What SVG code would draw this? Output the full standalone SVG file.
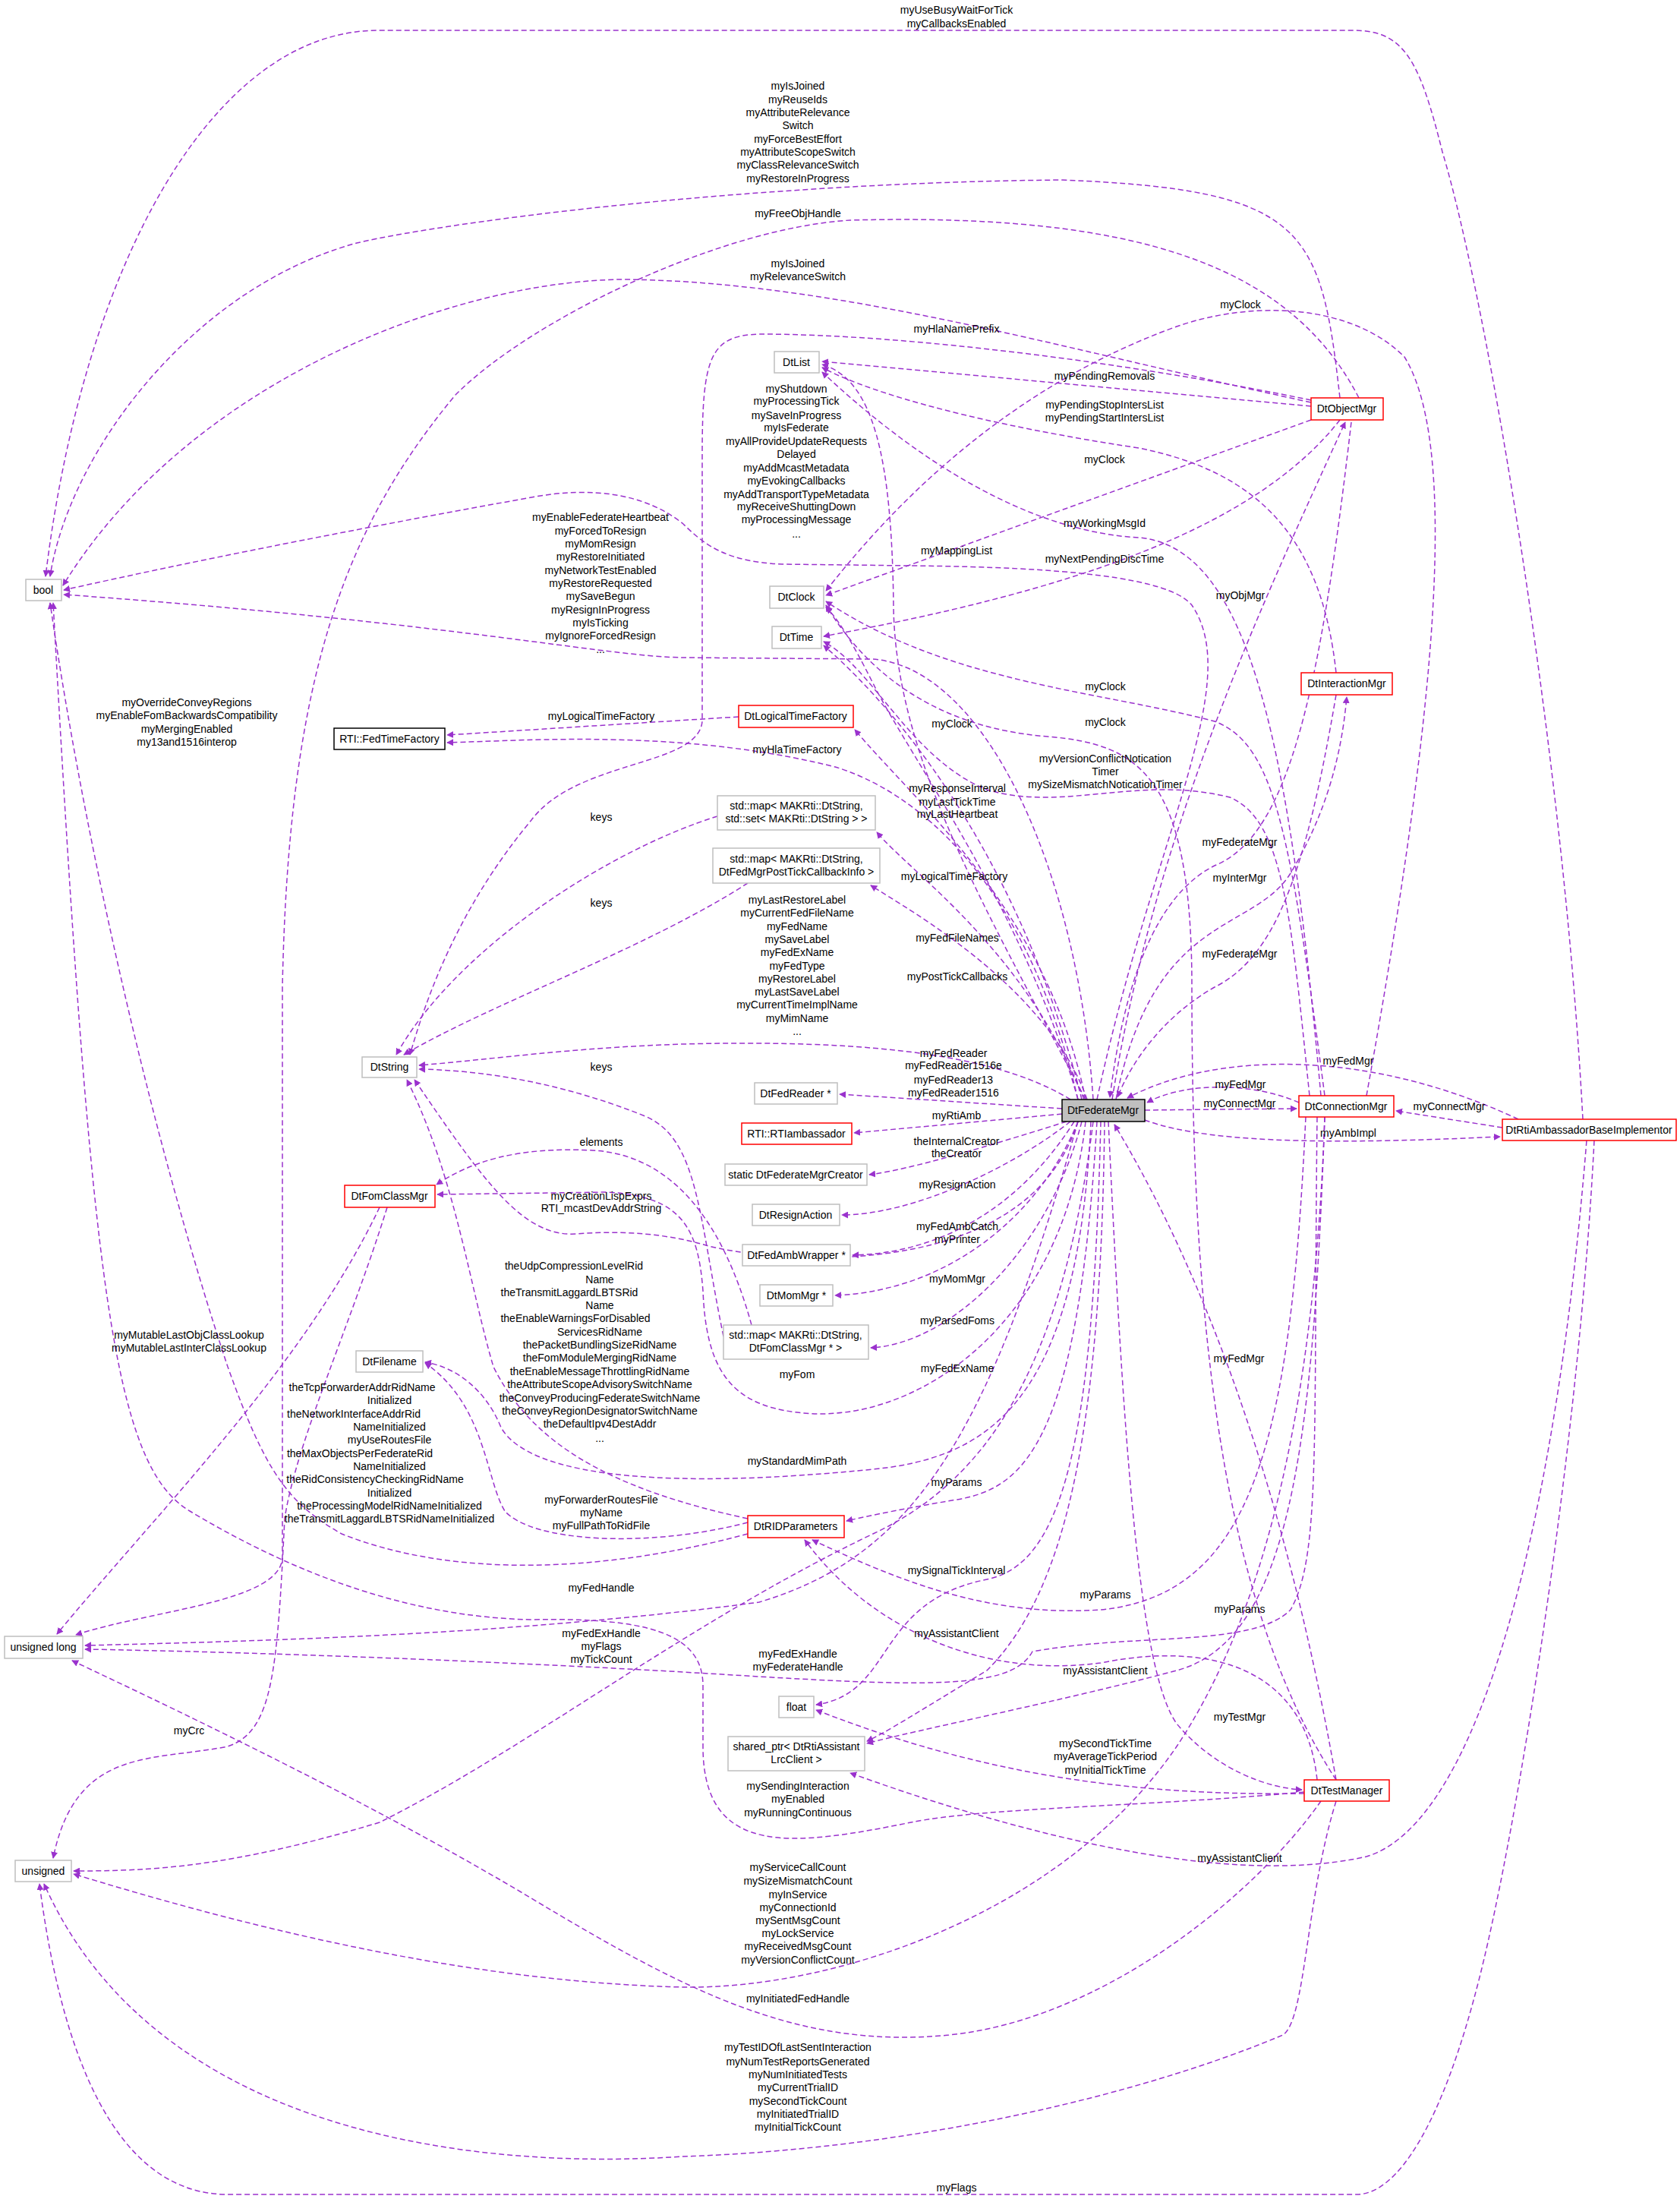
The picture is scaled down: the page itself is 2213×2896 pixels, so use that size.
<svg xmlns="http://www.w3.org/2000/svg" width="2213" height="2896" viewBox="0 0 2213 2896">
<style>
.e{fill:none;stroke:#9a32cd;stroke-width:1.5;stroke-dasharray:7,4;marker-end:url(#ah)}
text{font-family:"Liberation Sans",Arial,sans-serif;font-size:14px;fill:#000;text-anchor:middle}
.g{fill:#fff;stroke:#bfbfbf;stroke-width:1.5}
.r{fill:#fff;stroke:#ff0000;stroke-width:1.5}
.k{fill:#fff;stroke:#000;stroke-width:1.5}
.m{fill:#bfbfbf;stroke:#000;stroke-width:1.5}
</style>
<defs>
<marker id="ah" viewBox="0 0 10 10" refX="9" refY="5" markerWidth="9" markerHeight="9" markerUnits="userSpaceOnUse" orient="auto"><path d="M0,0 L10,5 L0,10 z" fill="#9a32cd"/></marker>
</defs>
<rect width="2213" height="2896" fill="#fff"/>
<g id="edges">
<path class="e" d="M2085,1474 C2060,1000 1960,400 1900,200 C1870,80 1850,40 1783,40 L498,40 C280,40 110,350 60,759"/>
<path class="e" d="M1765,524 C1740,300 1720,250 1400,237 C1000,240 600,290 470,320 C250,380 90,600 66,759"/>
<path class="e" d="M1727,530 C1400,460 1100,370 820,368 C600,370 250,500 83,771"/>
<path class="e" d="M1440,1448 C1420,1150 1300,880 1150,868 L900,866 C800,865 600,820 84,783"/>
<path class="e" d="M1445,1448 C1520,1100 1640,900 1570,797 C1540,760 1400,747 1200,745 L1030,743 C960,740 930,720 900,690 C850,650 780,640 700,655 C450,700 250,740 84,777"/>
<path class="e" d="M1727,527 C1500,480 1200,440 1000,440 C935,442 925,470 925,600 L925,950 C920,1010 760,1000 700,1080 C600,1200 560,1320 540,1389"/>
<path class="e" d="M1727,535 L1083,476"/>
<path class="e" d="M1760,886 C1740,700 1650,620 1500,590 C1300,560 1150,520 1083,484"/>
<path class="e" d="M1800,1443 C1880,1000 1930,600 1850,470 C1780,400 1650,395 1550,430 C1300,520 1150,700 1088,778"/>
<path class="e" d="M1727,553 L1088,784"/>
<path class="e" d="M1740,1443 C1700,1000 1650,720 1500,708 C1350,700 1200,600 1083,490"/>
<path class="e" d="M1430,1448 C1300,1200 1180,1000 1177,800 C1175,600 1150,500 1083,480"/>
<path class="e" d="M1765,553 C1650,700 1400,780 1085,838"/>
<path class="e" d="M1465,1448 C1520,1100 1660,800 1772,556"/>
<path class="e" d="M1745,1443 C1700,1100 1680,980 1600,950 C1450,910 1250,900 1088,792"/>
<path class="e" d="M1760,2344 C1600,2100 1570,1700 1570,1300 C1570,1020 1500,980 1380,970 C1250,960 1150,900 1088,797"/>
<path class="e" d="M1420,1448 C1350,1200 1200,1000 1150,900 C1120,840 1100,810 1088,800"/>
<path class="e" d="M1725,1443 C1700,1200 1690,1080 1620,1050 C1500,1020 1400,1070 1300,1040 C1200,1000 1150,880 1085,845"/>
<path class="e" d="M1425,1448 C1350,1150 1200,950 1085,850"/>
<path class="e" d="M1780,556 C1740,900 1700,1100 1600,1140 C1520,1180 1480,1300 1462,1445"/>
<path class="e" d="M1470,1448 C1520,1200 1650,1230 1700,1150 C1760,1050 1770,960 1774,918"/>
<path class="e" d="M1760,915 C1720,1150 1680,1260 1600,1300 C1530,1340 1490,1400 1472,1445"/>
<path class="e" d="M1711,1452 C1650,1425 1560,1425 1511,1452"/>
<path class="e" d="M2000,1474 C1800,1380 1600,1385 1485,1446"/>
<path class="e" d="M1508,1462 L1708,1460"/>
<path class="e" d="M1979,1485 L1839,1463"/>
<path class="e" d="M1508,1475 C1600,1510 1800,1505 1976,1497"/>
<path class="e" d="M1430,1448 C1380,1200 1200,1050 1126,961"/>
<path class="e" d="M973,944 L589,968"/>
<path class="e" d="M1420,1448 C1350,1150 1200,1040 1100,1010 C900,960 700,975 589,978"/>
<path class="e" d="M1428,1448 C1350,1250 1200,1150 1155,1096"/>
<path class="e" d="M1432,1448 C1380,1300 1200,1200 1147,1166"/>
<path class="e" d="M945,1075 C800,1120 600,1250 522,1389"/>
<path class="e" d="M985,1163 C850,1250 650,1320 532,1389"/>
<path class="e" d="M1410,1448 C1300,1380 1100,1370 900,1375 C750,1380 650,1395 552,1403"/>
<path class="e" d="M953,1760 C920,1600 920,1500 850,1470 C750,1430 650,1410 552,1408"/>
<path class="e" d="M990,1745 C950,1600 880,1520 780,1515 C680,1510 620,1530 575,1560"/>
<path class="e" d="M1430,1477 C1400,1750 1200,1880 1050,1860 C960,1850 930,1800 926,1700 C920,1620 900,1575 800,1570 L576,1573"/>
<path class="e" d="M1420,1477 C1350,1700 1000,1660 930,1640 C880,1625 820,1620 760,1625 C690,1630 640,1560 546,1422"/>
<path class="e" d="M985,2000 C800,1960 700,1900 650,1800 C620,1700 600,1550 536,1422"/>
<path class="e" d="M985,2005 C850,2040 700,2030 665,1990 C640,1950 640,1850 560,1795"/>
<path class="e" d="M985,2020 C800,2070 600,2080 450,2020 C380,1980 350,1940 300,1800 C200,1500 110,1100 66,794"/>
<path class="e" d="M1437,1477 C1420,1850 1300,1920 1150,1935 C900,1960 700,1950 660,1880 C640,1830 600,1800 560,1794"/>
<path class="e" d="M1445,1477 C1420,1900 1350,1960 1260,1975 C1200,1985 1150,1995 1115,2003"/>
<path class="e" d="M1720,1471 C1700,1900 1650,2100 1450,2120 C1300,2130 1180,2080 1070,2028"/>
<path class="e" d="M1735,2344 C1720,2200 1600,2160 1450,2190 C1300,2210 1150,2150 1060,2028"/>
<path class="e" d="M1450,1477 C1440,1900 1400,2060 1300,2080 C1150,2110 1180,2230 1075,2245"/>
<path class="e" d="M1718,2362 C1500,2365 1300,2340 1075,2252"/>
<path class="e" d="M1455,1477 C1450,1900 1400,2100 1300,2200 C1200,2260 1170,2280 1142,2293"/>
<path class="e" d="M1745,1471 C1730,1900 1700,2160 1550,2200 C1400,2240 1200,2280 1142,2296"/>
<path class="e" d="M2090,1502 C2050,2000 1950,2400 1800,2445 C1600,2490 1300,2400 1120,2335"/>
<path class="e" d="M1440,1477 C1400,1800 1300,1950 1150,2020 C900,2140 700,2300 500,2400 C300,2460 200,2464 97,2464"/>
<path class="e" d="M1420,1477 C1300,1900 1200,2050 1000,2110 C700,2150 400,2160 112,2167"/>
<path class="e" d="M1735,1471 C1730,1900 1740,2050 1700,2120 C1650,2170 1500,2150 1360,2175 C1330,2230 1200,2220 900,2202 C600,2185 300,2175 112,2172"/>
<path class="e" d="M1718,2360 C1500,2380 1300,2380 1200,2400 C1050,2430 926,2450 926,2300 L926,2220 C926,2150 850,2130 700,2133 C550,2130 400,2080 250,1990 C150,1930 120,1700 70,794"/>
<path class="e" d="M1740,2372 C1650,2500 1450,2660 1250,2680 C1050,2700 900,2620 700,2500 C500,2380 250,2260 95,2187"/>
<path class="e" d="M500,1590 C400,1800 200,2000 75,2152"/>
<path class="e" d="M510,1590 C460,1750 390,1900 375,2000 C365,2200 360,2280 300,2300 C200,2320 100,2300 70,2447"/>
<path class="e" d="M1790,524 C1700,350 1500,280 1120,290 C950,300 700,420 600,520 C450,700 380,900 372,1300 L372,2050 C372,2110 200,2120 100,2153"/>
<path class="e" d="M1745,1471 C1730,1900 1650,2150 1550,2300 C1400,2520 1100,2620 900,2617 C600,2610 300,2530 97,2468"/>
<path class="e" d="M1760,2372 C1720,2500 1720,2660 1690,2680 C1500,2760 1200,2830 900,2840 C600,2860 200,2800 58,2481"/>
<path class="e" d="M2100,1502 C2080,1900 2000,2400 1950,2600 C1900,2800 1840,2890 1787,2890 L300,2890 C150,2890 80,2700 52,2481"/>
<path class="e" d="M1760,2344 C1700,2000 1600,1700 1468,1481"/>
<path class="e" d="M1460,1477 C1480,1900 1500,2200 1550,2270 C1600,2330 1670,2355 1715,2357"/>
<path class="e" d="M1399,1460 L1106,1441"/>
<path class="e" d="M1399,1467 L1125,1492"/>
<path class="e" d="M1405,1477 C1300,1510 1200,1540 1145,1547"/>
<path class="e" d="M1410,1477 C1330,1540 1200,1600 1109,1600"/>
<path class="e" d="M1415,1477 C1350,1580 1250,1650 1123,1653"/>
<path class="e" d="M1420,1477 C1370,1600 1250,1700 1100,1706"/>
<path class="e" d="M1425,1477 C1380,1650 1250,1770 1147,1775"/>
<g>
<text x="1260" y="18">myUseBusyWaitForTick</text><text x="1260" y="36">myCallbacksEnabled</text>
<text x="1051" y="118">myIsJoined</text><text x="1051" y="136">myReuseIds</text><text x="1051" y="153">myAttributeRelevance</text><text x="1051" y="170">Switch</text><text x="1051" y="188">myForceBestEffort</text><text x="1051" y="205">myAttributeScopeSwitch</text><text x="1051" y="222">myClassRelevanceSwitch</text><text x="1051" y="240">myRestoreInProgress</text>
<text x="1051" y="286">myFreeObjHandle</text>
<text x="1051" y="352">myIsJoined</text><text x="1051" y="369">myRelevanceSwitch</text>
<text x="1634" y="406">myClock</text>
<text x="1260" y="438">myHlaNamePrefix</text>
<text x="1455" y="500">myPendingRemovals</text>
<text x="1455" y="538">myPendingStopIntersList</text><text x="1455" y="555">myPendingStartIntersList</text>
<text x="1049" y="517">myShutdown</text><text x="1049" y="533">myProcessingTick</text><text x="1049" y="552">mySaveInProgress</text><text x="1049" y="568">myIsFederate</text><text x="1049" y="586">myAllProvideUpdateRequests</text><text x="1049" y="603">Delayed</text><text x="1049" y="621">myAddMcastMetadata</text><text x="1049" y="638">myEvokingCallbacks</text><text x="1049" y="656">myAddTransportTypeMetadata</text><text x="1049" y="672">myReceiveShuttingDown</text><text x="1049" y="689">myProcessingMessage</text><text x="1049" y="708">...</text>
<text x="1455" y="610">myClock</text>
<text x="1455" y="694">myWorkingMsgId</text>
<text x="1260" y="730">myMappingList</text>
<text x="1455" y="741">myNextPendingDiscTime</text>
<text x="1634" y="789">myObjMgr</text>
<text x="791" y="686">myEnableFederateHeartbeat</text><text x="791" y="704">myForcedToResign</text><text x="791" y="721">myMomResign</text><text x="791" y="738">myRestoreInitiated</text><text x="791" y="756">myNetworkTestEnabled</text><text x="791" y="773">myRestoreRequested</text><text x="791" y="790">mySaveBegun</text><text x="791" y="808">myResignInProgress</text><text x="791" y="825">myIsTicking</text><text x="791" y="842">myIgnoreForcedResign</text><text x="791" y="860">...</text>
<text x="1456" y="909">myClock</text><text x="1456" y="956">myClock</text><text x="1254" y="958">myClock</text>
<text x="246" y="930">myOverrideConveyRegions</text><text x="246" y="947">myEnableFomBackwardsCompatibility</text><text x="246" y="965">myMergingEnabled</text><text x="246" y="982">my13and1516interop</text>
<text x="792" y="948">myLogicalTimeFactory</text>
<text x="1050" y="992">myHlaTimeFactory</text>
<text x="1456" y="1004">myVersionConflictNotication</text><text x="1456" y="1021">Timer</text><text x="1456" y="1038">mySizeMismatchNoticationTimer</text>
<text x="1261" y="1043">myResponseInterval</text><text x="1261" y="1061">myLastTickTime</text><text x="1261" y="1077">myLastHeartbeat</text>
<text x="792" y="1081">keys</text>
<text x="1633" y="1114">myFederateMgr</text>
<text x="1257" y="1159">myLogicalTimeFactory</text>
<text x="1633" y="1161">myInterMgr</text>
<text x="792" y="1194">keys</text>
<text x="1050" y="1190">myLastRestoreLabel</text><text x="1050" y="1207">myCurrentFedFileName</text><text x="1050" y="1225">myFedName</text><text x="1050" y="1242">mySaveLabel</text><text x="1050" y="1259">myFedExName</text><text x="1050" y="1277">myFedType</text><text x="1050" y="1294">myRestoreLabel</text><text x="1050" y="1311">myLastSaveLabel</text><text x="1050" y="1328">myCurrentTimeImplName</text><text x="1050" y="1346">myMimName</text><text x="1050" y="1363">...</text>
<text x="1261" y="1240">myFedFileNames</text>
<text x="1633" y="1261">myFederateMgr</text>
<text x="1261" y="1291">myPostTickCallbacks</text>
<text x="1776" y="1402">myFedMgr</text>
<text x="792" y="1410">keys</text>
<text x="1256" y="1392">myFedReader</text><text x="1256" y="1408">myFedReader1516e</text><text x="1256" y="1427">myFedReader13</text><text x="1256" y="1444">myFedReader1516</text>
<text x="1634" y="1433">myFedMgr</text>
<text x="1633" y="1458">myConnectMgr</text>
<text x="1909" y="1462">myConnectMgr</text>
<text x="1776" y="1497">myAmbImpl</text>
<text x="1260" y="1474">myRtiAmb</text>
<text x="1260" y="1508">theInternalCreator</text><text x="1260" y="1524">theCreator</text>
<text x="792" y="1509">elements</text>
<text x="1261" y="1565">myResignAction</text>
<text x="792" y="1580">myCreationLispExprs</text><text x="792" y="1596">RTI_mcastDevAddrString</text>
<text x="1261" y="1620">myFedAmbCatch</text><text x="1261" y="1637">myPrinter</text>
<text x="1261" y="1689">myMomMgr</text>
<text x="1261" y="1744">myParsedFoms</text>
<text x="756" y="1672">theUdpCompressionLevelRid</text><text x="790" y="1690">Name</text><text x="750" y="1707">theTransmitLaggardLBTSRid</text><text x="790" y="1724">Name</text><text x="758" y="1741">theEnableWarningsForDisabled</text><text x="790" y="1759">ServicesRidName</text><text x="790" y="1776">thePacketBundlingSizeRidName</text><text x="790" y="1793">theFomModuleMergingRidName</text><text x="790" y="1811">theEnableMessageThrottlingRidName</text><text x="790" y="1828">theAttributeScopeAdvisorySwitchName</text><text x="790" y="1846">theConveyProducingFederateSwitchName</text><text x="790" y="1863">theConveyRegionDesignatorSwitchName</text><text x="790" y="1880">theDefaultIpv4DestAddr</text><text x="790" y="1899">...</text>
<text x="249" y="1763">myMutableLastObjClassLookup</text><text x="249" y="1780">myMutableLastInterClassLookup</text>
<text x="1632" y="1794">myFedMgr</text>
<text x="1261" y="1807">myFedExName</text>
<text x="1050" y="1815">myFom</text>
<text x="477" y="1832">theTcpForwarderAddrRidName</text><text x="513" y="1849">Initialized</text><text x="466" y="1867">theNetworkInterfaceAddrRid</text><text x="513" y="1884">NameInitialized</text><text x="513" y="1901">myUseRoutesFile</text><text x="474" y="1919">theMaxObjectsPerFederateRid</text><text x="513" y="1936">NameInitialized</text><text x="494" y="1953">theRidConsistencyCheckingRidName</text><text x="513" y="1971">Initialized</text><text x="513" y="1988">theProcessingModelRidNameInitialized</text><text x="513" y="2005">theTransmitLaggardLBTSRidNameInitialized</text>
<text x="1050" y="1929">myStandardMimPath</text>
<text x="1260" y="1957">myParams</text>
<text x="792" y="1980">myForwarderRoutesFile</text><text x="792" y="1997">myName</text><text x="792" y="2014">myFullPathToRidFile</text>
<text x="1260" y="2073">mySignalTickInterval</text>
<text x="792" y="2096">myFedHandle</text>
<text x="1456" y="2105">myParams</text>
<text x="1633" y="2124">myParams</text>
<text x="792" y="2156">myFedExHandle</text><text x="792" y="2173">myFlags</text><text x="792" y="2190">myTickCount</text>
<text x="1260" y="2156">myAssistantClient</text>
<text x="1051" y="2183">myFedExHandle</text><text x="1051" y="2200">myFederateHandle</text>
<text x="1456" y="2205">myAssistantClient</text>
<text x="1633" y="2266">myTestMgr</text>
<text x="249" y="2284">myCrc</text>
<text x="1456" y="2301">mySecondTickTime</text><text x="1456" y="2318">myAverageTickPeriod</text><text x="1456" y="2336">myInitialTickTime</text>
<text x="1051" y="2357">mySendingInteraction</text><text x="1051" y="2374">myEnabled</text><text x="1051" y="2392">myRunningContinuous</text>
<text x="1633" y="2452">myAssistantClient</text>
<text x="1051" y="2464">myServiceCallCount</text><text x="1051" y="2482">mySizeMismatchCount</text><text x="1051" y="2500">myInService</text><text x="1051" y="2517">myConnectionId</text><text x="1051" y="2534">mySentMsgCount</text><text x="1051" y="2551">myLockService</text><text x="1051" y="2568">myReceivedMsgCount</text><text x="1051" y="2586">myVersionConflictCount</text>
<text x="1051" y="2637">myInitiatedFedHandle</text>
<text x="1051" y="2701">myTestIDOfLastSentInteraction</text><text x="1051" y="2720">myNumTestReportsGenerated</text><text x="1051" y="2737">myNumInitiatedTests</text><text x="1051" y="2754">myCurrentTrialID</text><text x="1051" y="2772">mySecondTickCount</text><text x="1051" y="2789">myInitiatedTrialID</text><text x="1051" y="2806">myInitialTickCount</text>
<text x="1260" y="2886">myFlags</text>
</g>
</g>
<g id="n_bool"><rect class="g" x="34" y="763" width="47" height="28"/><text x="57" y="782">bool</text></g>
<g id="n_DtList"><rect class="g" x="1020" y="463" width="59" height="28"/><text x="1049" y="482">DtList</text></g>
<g id="n_DtClock"><rect class="g" x="1014" y="772" width="71" height="29"/><text x="1049" y="791">DtClock</text></g>
<g id="n_DtTime"><rect class="g" x="1017" y="825" width="65" height="29"/><text x="1049" y="844">DtTime</text></g>
<g id="n_DtObjectMgr"><rect class="r" x="1727" y="524" width="95" height="29"/><text x="1774" y="543">DtObjectMgr</text></g>
<g id="n_DtInteractionMgr"><rect class="r" x="1714" y="886" width="120" height="29"/><text x="1774" y="905">DtInteractionMgr</text></g>
<g id="n_FedTimeFactory"><rect class="k" x="440" y="959" width="146" height="28"/><text x="513" y="978">RTI::FedTimeFactory</text></g>
<g id="n_DtLogicalTimeFactory"><rect class="r" x="973" y="929" width="151" height="29"/><text x="1048" y="948">DtLogicalTimeFactory</text></g>
<g id="n_mapSet"><rect class="g" x="945" y="1048" width="208" height="45"/><text x="1049" y="1066">std::map&lt; MAKRti::DtString,</text><text x="1049" y="1083">std::set&lt; MAKRti::DtString &gt; &gt;</text></g>
<g id="n_mapPost"><rect class="g" x="939" y="1117" width="220" height="46"/><text x="1049" y="1136">std::map&lt; MAKRti::DtString,</text><text x="1049" y="1153">DtFedMgrPostTickCallbackInfo &gt;</text></g>
<g id="n_DtString"><rect class="g" x="477" y="1392" width="72" height="27"/><text x="513" y="1410">DtString</text></g>
<g id="n_DtFedReader"><rect class="g" x="994" y="1426" width="109" height="28"/><text x="1048" y="1445">DtFedReader *</text></g>
<g id="n_RTIambassador"><rect class="r" x="977" y="1479" width="145" height="28"/><text x="1049" y="1498">RTI::RTIambassador</text></g>
<g id="n_DtFederateMgr"><rect class="m" x="1399" y="1448" width="109" height="29"/><text x="1453" y="1467">DtFederateMgr</text></g>
<g id="n_DtConnectionMgr"><rect class="r" x="1711" y="1443" width="125" height="28"/><text x="1773" y="1462">DtConnectionMgr</text></g>
<g id="n_DtRtiAmbassadorBaseImplementor"><rect class="r" x="1979" y="1474" width="229" height="28"/><text x="2093" y="1493">DtRtiAmbassadorBaseImplementor</text></g>
<g id="n_creator"><rect class="g" x="955" y="1533" width="187" height="28"/><text x="1048" y="1552">static DtFederateMgrCreator</text></g>
<g id="n_DtResignAction"><rect class="g" x="991" y="1586" width="115" height="28"/><text x="1048" y="1605">DtResignAction</text></g>
<g id="n_DtFedAmbWrapper"><rect class="g" x="978" y="1639" width="142" height="28"/><text x="1049" y="1658">DtFedAmbWrapper *</text></g>
<g id="n_DtMomMgr"><rect class="g" x="1001" y="1692" width="96" height="28"/><text x="1049" y="1711">DtMomMgr *</text></g>
<g id="n_mapFom"><rect class="g" x="953" y="1745" width="191" height="45"/><text x="1048" y="1763">std::map&lt; MAKRti::DtString,</text><text x="1048" y="1780">DtFomClassMgr * &gt;</text></g>
<g id="n_DtFomClassMgr"><rect class="r" x="454" y="1561" width="119" height="29"/><text x="513" y="1580">DtFomClassMgr</text></g>
<g id="n_DtFilename"><rect class="g" x="469" y="1779" width="88" height="28"/><text x="513" y="1798">DtFilename</text></g>
<g id="n_DtRIDParameters"><rect class="r" x="985" y="1996" width="127" height="29"/><text x="1048" y="2015">DtRIDParameters</text></g>
<g id="n_ulong"><rect class="g" x="6" y="2155" width="103" height="29"/><text x="57" y="2174">unsigned long</text></g>
<g id="n_float"><rect class="g" x="1026" y="2234" width="46" height="28"/><text x="1049" y="2253">float</text></g>
<g id="n_shared"><rect class="g" x="959" y="2287" width="180" height="45"/><text x="1049" y="2305">shared_ptr&lt; DtRtiAssistant</text><text x="1049" y="2322">LrcClient &gt;</text></g>
<g id="n_DtTestManager"><rect class="r" x="1718" y="2344" width="112" height="28"/><text x="1774" y="2363">DtTestManager</text></g>
<g id="n_unsigned"><rect class="g" x="20" y="2450" width="74" height="28"/><text x="57" y="2469">unsigned</text></g>
</svg>
